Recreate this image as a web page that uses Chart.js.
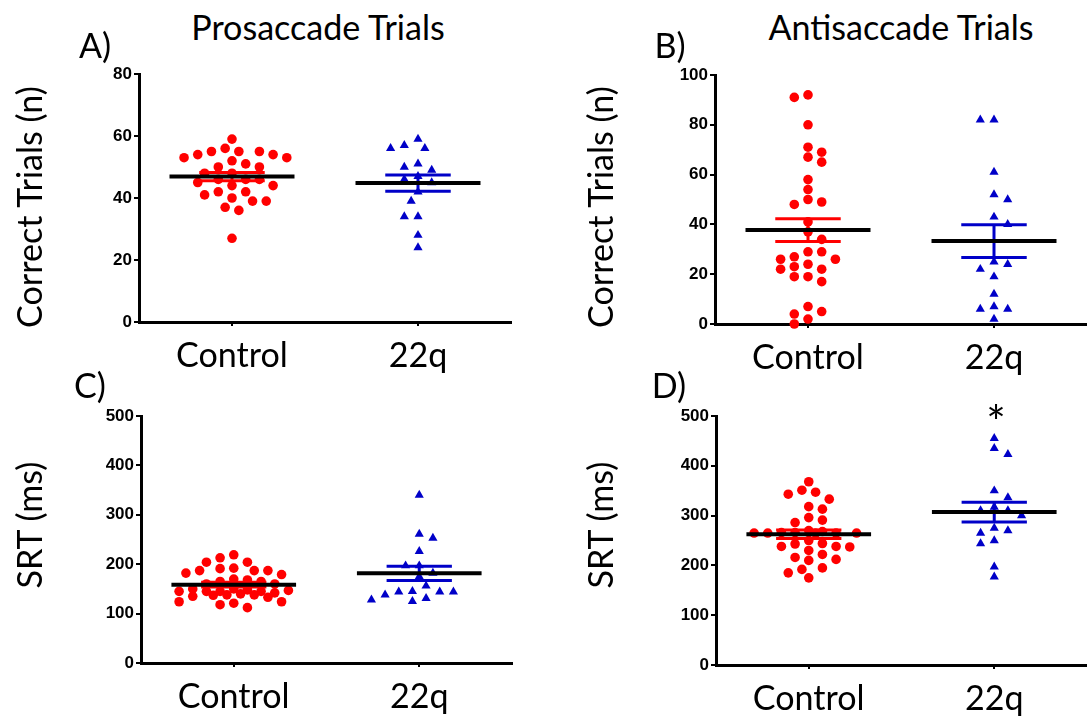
<!DOCTYPE html>
<html>
<head>
<meta charset="utf-8">
<script src="https://cdn.jsdelivr.net/npm/chart.js@4.4.1/dist/chart.umd.min.js"></script>
<style>
  body { margin: 0; background: #fff; width: 1087px; height: 723px; overflow: hidden; position: relative; font-family: Lato, sans-serif; }
  canvas { position: absolute; }
  .txt { position: absolute; white-space: nowrap; line-height: 1; color: #000; transform: translate(-50%, -50%); }
  .rot { transform: translate(-50%, -50%) rotate(-90deg); }
</style>
</head>
<body>
<canvas id="panelA" width="530" height="320" style="left:0px;top:60px"></canvas>
<canvas id="panelB" width="511" height="321" style="left:576px;top:61px"></canvas>
<canvas id="panelC" width="528" height="319" style="left:2px;top:402px"></canvas>
<canvas id="panelD" width="510" height="321" style="left:577px;top:402px"></canvas>

<script>
// groups and where they sit on the x axis
const categories = ['Control', '22q'];
const catPos = [0.25, 0.75];

// y tick labels
const ticksProCorrect = [0, 20, 40, 60, 80];
const ticksAntiCorrect = [0, 20, 40, 60, 80, 100];
const ticksSrt = [0, 100, 200, 300, 400, 500];

// A) prosaccade, correct trials (n)
const proCorrectControl = [59, 56, 55, 55, 55, 54, 54, 53, 53, 52, 51, 50, 50, 48, 48, 46, 46, 46, 45, 44, 44, 42, 42, 41, 40, 39, 39, 37, 36, 27];
const proCorrect22q = [59, 57, 56, 56, 51, 50, 49, 47, 46, 45, 42, 39, 34, 34, 28, 24];

// B) antisaccade, correct trials (n)
const antiCorrectControl = [92, 91, 80, 71, 69, 67, 65, 58, 54, 50, 49, 48, 41, 37, 34, 29, 29, 27, 26, 26, 24, 23, 22, 22, 19, 19, 17, 7, 5, 4, 2, 0];
const antiCorrect22q = [82, 82, 61, 52, 50, 43, 40, 25, 24, 22, 19, 12, 7, 6, 6, 2];

// C) prosaccade, SRT (ms)
const proSrtControl = [219, 213, 204, 204, 192, 191, 187, 187, 187, 182, 179, 170, 168, 165, 165, 160, 160, 150, 150, 148, 147, 145, 145, 145, 145, 142, 140, 138, 138, 137, 135, 133, 124, 124, 121, 118, 112];
const proSrt22q = [340, 261, 253, 226, 197, 197, 182, 175, 156, 145, 144, 144, 144, 138, 131, 128, 125];

// D) antisaccade, SRT (ms)
const antiSrtControl = [368, 351, 347, 343, 333, 318, 313, 296, 291, 286, 270, 268, 266, 266, 265, 265, 265, 265, 265, 250, 244, 243, 238, 238, 237, 230, 222, 216, 212, 210, 195, 192, 185, 175];
const antiSrt22q = [455, 435, 423, 350, 336, 317, 310, 310, 300, 275, 270, 265, 250, 244, 197, 177];

const RED = '#ff0000';
const BLUE = '#0000c8';
const PLOT_W = 372, PLOT_H = 248;

// big text in the picture is Calibri; size Lato so "Control" has the same width
const meas = document.createElement('canvas').getContext('2d');
meas.font = '36px Lato';
const big = Math.round(36 * 112 / meas.measureText('Control').width * 10) / 10;

function mean(a) { return a.reduce((s, v) => s + v, 0) / a.length; }
function sem(a) {
    const m = mean(a);
    const sd = Math.sqrt(a.reduce((s, v) => s + (v - m) * (v - m), 0) / (a.length - 1));
    return sd / Math.sqrt(a.length);
}

// spread dots sideways so they do not overlap too much (like a Prism scatter plot)
// columns are half a dot spacing apart, at most 8 columns either side
function swarm(values, center, pxPerUnit) {
    const gapX = 13.7, gapY = 9.5, step = gapX / 2, maxCol = 8;
    const placed = [];
    const xs = [];
    const order = values.map((v, i) => i).sort((a, b) => values[b] - values[a]);
    const cands = [0];
    for (let k = 1; k <= maxCol; k++) cands.push(k * step, -k * step);
    order.forEach((i, n) => {
        const y = values[i] * pxPerUnit;
        let best = 0, bestDist = -1;
        for (const c of cands) {
            const o = n % 2 ? -c : c;
            const d = placed.reduce((mn, p) => Math.min(mn, Math.hypot((p.x - o) / gapX, (p.y - y) / gapY)), Infinity);
            if (d >= 1) { best = o; break; }
            if (d > bestDist + 0.05) { bestDist = d; best = o; }
        }
        placed.push({ x: best, y: y });
        xs[i] = center + best / PLOT_W;
    });
    return xs;
}

function line(points, color, width) {
    return { data: points, showLine: true, borderColor: color, borderWidth: width, pointRadius: 0, clip: false };
}

function makePanel(id, yTicks, groups, padRight) {
    const yMax = yTicks[yTicks.length - 1];
    const meanLines = [], semLines = [], dots = [];
    groups.forEach((vals, g) => {
        const c = catPos[g];
        const color = g === 0 ? RED : BLUE;
        const m = mean(vals), e = sem(vals);
        meanLines.push(line([{ x: c - 0.168, y: m }, { x: c + 0.168, y: m }], '#000', 4));
        semLines.push(line([{ x: c - 0.088, y: m + e }, { x: c + 0.088, y: m + e }], color, 3));
        semLines.push(line([{ x: c - 0.088, y: m - e }, { x: c + 0.088, y: m - e }], color, 3));
        semLines.push(line([{ x: c, y: m - e }, { x: c, y: m + e }], color, 3));
        const xs = swarm(vals, c, PLOT_H / yMax);
        dots.push({
            data: vals.map((v, i) => ({ x: xs[i], y: v })),
            pointStyle: g === 0 ? 'circle' : 'triangle',
            pointRadius: g === 0 ? 4.8 : 5.3,
            backgroundColor: color,
            borderWidth: 0,
            showLine: false,
            clip: false
        });
    });

    new Chart(document.getElementById(id), {
        type: 'scatter',
        // first dataset is drawn on top
        data: { datasets: meanLines.concat(semLines, dots) },
        options: {
            responsive: false,
            animation: false,
            events: [],
            layout: { padding: { left: 0, top: 14, right: padRight, bottom: 0 }, autoPadding: false },
            plugins: { legend: { display: false }, tooltip: { enabled: false } },
            scales: {
                x: {
                    type: 'linear', min: 0, max: 1,
                    afterBuildTicks: s => { s.ticks = catPos.map(v => ({ value: v })); },
                    afterFit: s => { s.height = 58; },
                    grid: { drawOnChartArea: false, drawTicks: true, tickLength: 4, color: '#000', lineWidth: 2 },
                    border: { display: true, color: '#000', width: 3 },
                    ticks: {
                        callback: (v, i) => categories[i],
                        font: { family: 'Lato', size: big },
                        color: '#000', padding: 10, maxRotation: 0, autoSkip: false
                    }
                },
                y: {
                    min: yTicks[0], max: yMax,
                    afterBuildTicks: s => { s.ticks = yTicks.map(v => ({ value: v })); },
                    afterFit: s => { s.width = 139; },
                    grid: { drawOnChartArea: false, drawTicks: true, tickLength: 5, color: '#000', lineWidth: 2 },
                    border: { display: true, color: '#000', width: 3 },
                    ticks: { font: { family: 'Liberation Sans', size: 17, weight: 'bold' }, color: '#000', padding: 2 }
                }
            }
        }
    });
}

makePanel('panelA', ticksProCorrect, [proCorrectControl, proCorrect22q], 19);
makePanel('panelB', ticksAntiCorrect, [antiCorrectControl, antiCorrect22q], 0);
makePanel('panelC', ticksSrt, [proSrtControl, proSrt22q], 18);
makePanel('panelD', ticksSrt, [antiSrtControl, antiSrt22q], 0);

// titles, panel letters, axis titles
const labels = [
    ['Prosaccade Trials', 318, 27, false, 1],
    ['Antisaccade Trials', 901, 27, false, 1],
    ['A)', 95, 45, false, 1],
    ['B)', 670, 45, false, 1],
    ['C)', 90, 385, false, 1],
    ['D)', 669, 385, false, 1],
    ['Correct Trials (n)', 29, 207, true, 1],
    ['Correct Trials (n)', 600, 207, true, 1],
    ['SRT (ms)', 29, 525, true, 1],
    ['SRT (ms)', 600, 525, true, 1],
    ['*', 996, 422, false, 1.35]
];
labels.forEach(([text, x, y, rot, scale]) => {
    const d = document.createElement('div');
    d.className = rot ? 'txt rot' : 'txt';
    d.textContent = text;
    d.style.left = x + 'px';
    d.style.top = y + 'px';
    d.style.fontSize = (big * scale) + 'px';
    document.body.appendChild(d);
});
</script>
</body>
</html>
